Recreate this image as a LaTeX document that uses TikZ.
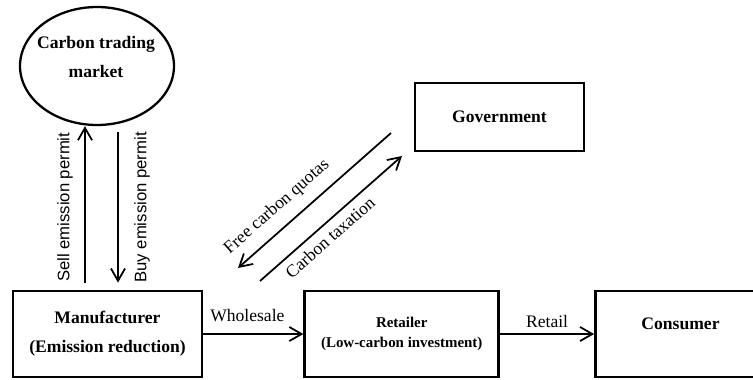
\documentclass[tikz,border=0pt]{standalone}
\usepackage{fontspec}
\setmainfont{Liberation Serif}
\newfontfamily\permitfont{Liberation Sans}
\usetikzlibrary{positioning}
\usetikzlibrary{shapes.geometric}
\usetikzlibrary{arrows.meta}

\begin{document}
\begin{tikzpicture}[x=0.02cm, y=-0.02cm,
    agent/.style={draw, line width=1.6pt, minimum width=#1, minimum height=1.72cm,
        align=center, font=\bfseries\fontsize{10}{16.5}\selectfont},
    flow/.style={-{Straight Barb[length=7pt, width=8pt]}, line width=1pt},
    flowlabel/.style={font=\fontsize{10}{12}\selectfont},
    permitlabel/.style={font=\permitfont\fontsize{9.5}{11}\selectfont}]

    \useasboundingbox (0,0) rectangle (753,379);

    \node [ellipse, draw, line width=1.3pt, minimum width=3.08cm, minimum height=2.36cm] (market) at (97,66) {};
    \node [font=\bfseries\fontsize{10}{16.5}\selectfont, align=center] (marketname) at (96,57) {Carbon trading\\market};

    \node [agent=3.78cm] (manufacturer) at (107.5,334) {Manufacturer\\(Emission reduction)};
    \node [agent=3.88cm, right=2cm of manufacturer, font=\bfseries\fontsize{8.5}{11.5}\selectfont] (retailer)
        {Retailer\\(Low-carbon investment)};
    \node [agent=3.18cm, right=1.88cm of retailer] (consumer) {};
    \node [font=\bfseries\fontsize{10}{12}\selectfont] (consumername) at ([xshift=0.11cm, yshift=0.2cm]consumer.center) {Consumer};

    \node [agent=3.38cm, minimum height=1.36cm] (government) at (499.5,117) {Government};

    % permits between manufacturer and market
    \coordinate (sellx) at (85,0);
    \coordinate (buyx) at (118,0);
    \draw [flow] ([yshift=3.5pt]manufacturer.north -| sellx) -- (market.south -| sellx)
        node [permitlabel, midway, xshift=-0.4cm, yshift=-0.05cm, rotate=90] (selllabel) {Sell emission permit};
    \draw [flow] ([yshift=-3.5pt]market.south -| buyx) -- ([yshift=4pt]manufacturer.north -| buyx)
        node [permitlabel, midway, xshift=0.48cm, rotate=90] (buylabel) {Buy emission permit};

    % government
    \coordinate (quotasfrom) at (391,133);
    \coordinate (quotasto) at (238,268);
    \coordinate (taxfrom) at (260,281);
    \coordinate (taxto) at (402,156);
    \draw [flow] (quotasfrom) -- (quotasto)
        node [flowlabel, pos=0.66, xshift=-0.26cm, yshift=0.3cm, rotate=41.4] (quotaslabel) {Free carbon quotas};
    \draw [flow] (taxfrom) -- (taxto)
        node [flowlabel, pos=0.43, xshift=0.18cm, yshift=-0.2cm, rotate=41.4] (taxlabel) {Carbon taxation};

    \draw [flow] (manufacturer) -- (retailer) node [flowlabel, midway, above=3pt, xshift=-0.12cm] (wholesalelabel) {Wholesale};
    \draw [flow] (retailer) -- (consumer) node [flowlabel, midway, above] (retaillabel) {Retail};

\end{tikzpicture}
\end{document}
